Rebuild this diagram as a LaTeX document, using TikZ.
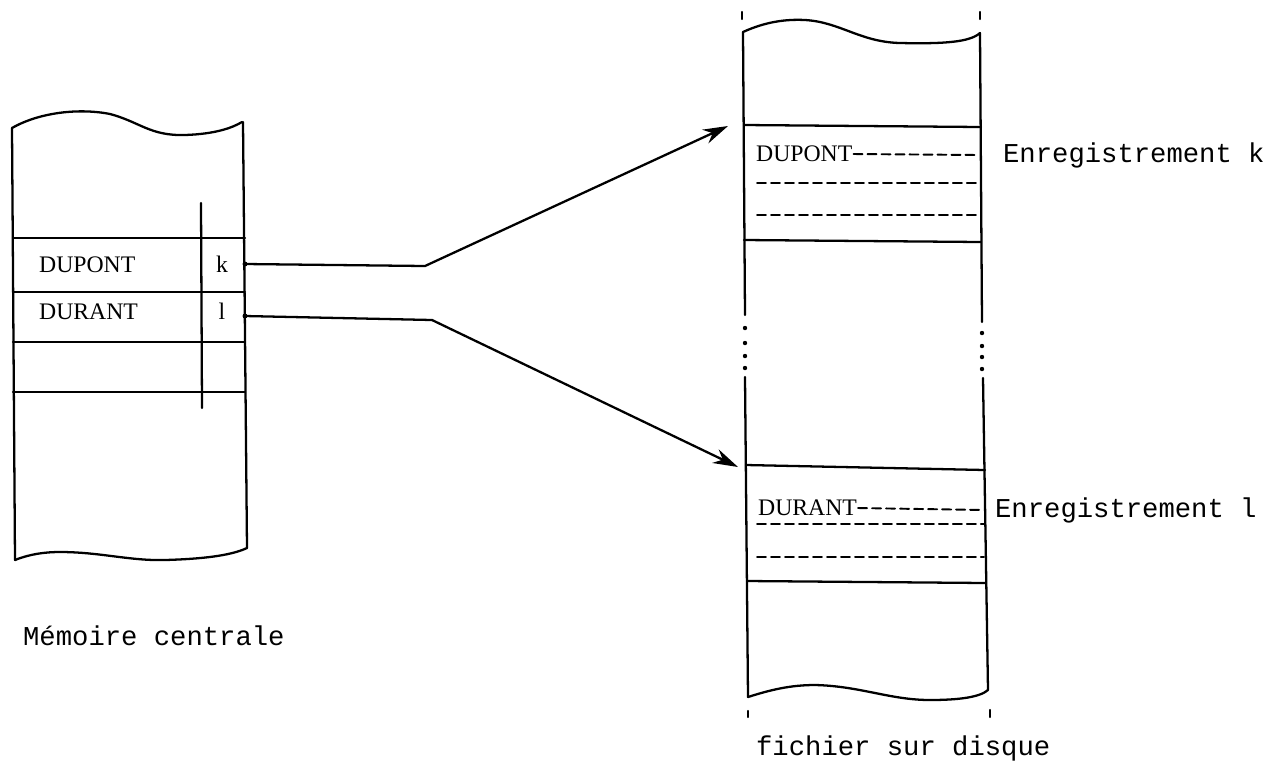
\documentclass[tikz,border=0pt]{standalone}
\usepackage{fontspec}
\setmainfont{Liberation Serif}
\setmonofont{Liberation Mono}
\usetikzlibrary{arrows.meta}

\begin{document}
\begin{tikzpicture}[x=0.02cm, y=-0.02cm, line width=1.3pt, line cap=round,
  field/.style={font=\fontsize{13.5}{15}\selectfont, inner sep=0pt},
  caption/.style={font=\ttfamily\fontsize{15.5}{18}\selectfont, inner sep=0pt},
  pointer/.style={-{Stealth[length=0.5cm, width=0.3cm]}},
  filler/.style={dash pattern=on 0.18cm off 0.1cm, line width=1.1pt}]
  \useasboundingbox (0,0) rectangle (1282,769);

  % memoire centrale
  \draw (12,128) .. controls (40,112) and (80,108) .. (110,114)
        .. controls (140,122) and (150,136) .. (185,135)
        .. controls (215,134) and (232,128) .. (242,122);
  \draw (12,128) -- (15,560);
  \draw (243,122) -- (247,548);
  \draw (15,560) .. controls (30,554) and (45,552) .. (60,552)
        .. controls (100,552) and (130,561) .. (165,560)
        .. controls (200,559) and (230,556) .. (247,548);
  \foreach \y in {238,292,342,392}
    \draw (13,\y) -- (245,\y);
  \draw (201,203) -- (202,408);

  \node (dupont) [field, anchor=west] at (38,265) {DUPONT};
  \node (durant) [field, anchor=west] at (38,312) {DURANT};
  \node (k) [field] at (222,264) {k};
  \node (l) [field] at (222,311) {l};
  \node (memoire) [caption, anchor=west] at (22,636) {Mémoire centrale};

  % fichier sur disque
  \draw (743,32) .. controls (765,22) and (785,19) .. (805,20)
        .. controls (840,22) and (860,42) .. (900,43)
        .. controls (945,44) and (970,42) .. (980,33);
  \draw (743,32) -- (745,315);
  \draw (745,377) -- (748,697);
  \draw (980,33) -- (982,322);
  \draw (983,378) -- (988,690);
  \foreach \y in {328,343,356,368}
    \fill (745,\y) circle (2.2);
  \foreach \y in {333,346,357,369}
    \fill (982,\y) circle (2.2);
  \draw (748,697) .. controls (770,690) and (790,685) .. (815,685)
        .. controls (860,686) and (890,700) .. (930,700)
        .. controls (960,700) and (980,697) .. (988,690);
  \draw (742,12) -- (742,19);
  \draw (980,12) -- (980,19);
  \draw (748,711) -- (748,717);
  \draw (990,710) -- (990,717);

  \draw (744,125) -- (981,127);
  \draw (744,240) -- (981,242);
  \draw (746,465) -- (985,470);
  \draw (747,581) -- (986,583);

  \node (dupont-rec) [field, anchor=west] at (755,154) {DUPONT};
  \node (durant-rec) [field, anchor=west] at (757,508) {DURANT};
  \draw[filler] (dupont-rec.east) -- (979,155);
  \draw[filler] (757,183) -- (979,183);
  \draw[filler] (757,215) -- (979,215);
  \draw[filler] (durant-rec.east) -- (984,510);
  \draw[filler] (757,524) -- (984,524);
  \draw[filler] (757,557) -- (984,557);

  \node (enreg-k) [caption, anchor=west] at (1002,155) {Enregistrement k};
  \node (enreg-l) [caption, anchor=west] at (994,510) {Enregistrement l};
  \node (fichier) [caption, anchor=west] at (755,748) {fichier sur disque};

  % pointeurs
  \coordinate (ptr-k) at (245,264);
  \coordinate (bend-k) at (425,266);
  \coordinate (rec-k) at (728,126);
  \coordinate (ptr-l) at (245,316);
  \coordinate (bend-l) at (432,320);
  \coordinate (rec-l) at (738,467);
  \fill (ptr-k) circle (2.5);
  \fill (ptr-l) circle (2.5);
  \draw[pointer] (ptr-k) -- (bend-k) -- (rec-k);
  \draw[pointer] (ptr-l) -- (bend-l) -- (rec-l);
\end{tikzpicture}
\end{document}
